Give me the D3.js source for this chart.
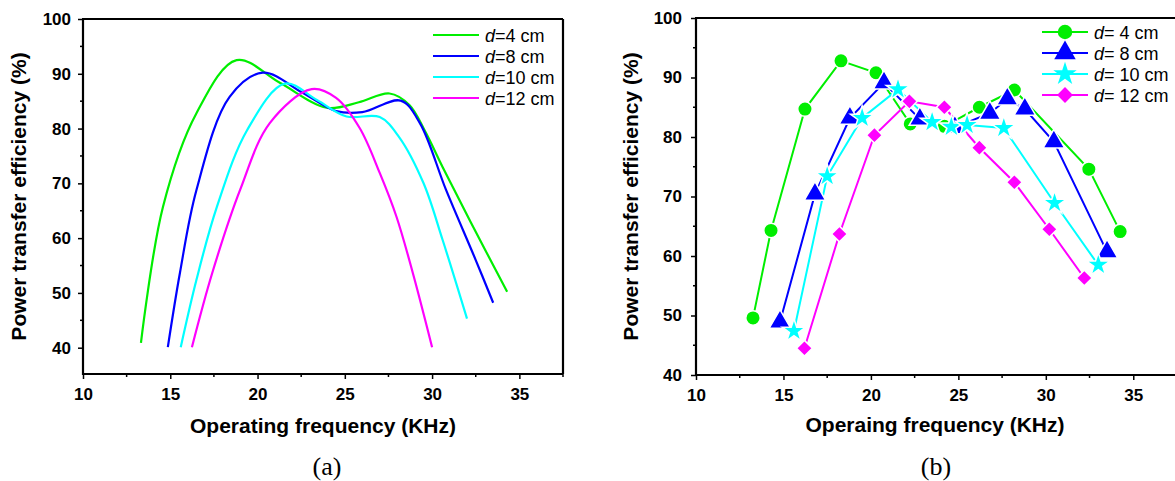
<!DOCTYPE html>
<html><head><meta charset="utf-8">
<script src="https://cdn.jsdelivr.net/npm/d3@7"></script>
<style>
html,body{margin:0;padding:0;background:#fff;}
</style></head>
<body><svg id="c" width="1175" height="481" style="font-family:'Liberation Sans',Arial,sans-serif"></svg>
<script>
// ---------- Data ----------
const seriesLabels = ["4 cm", "8 cm", "10 cm", "12 cm"];
const seriesColors = ["#00ee00", "#0000ff", "#00ffff", "#ff00ff"];
const xTicks = [10, 15, 20, 25, 30, 35];
const yTicksA = [40, 50, 60, 70, 80, 90, 100];
const yTicksB = [40, 50, 60, 70, 80, 90, 100];

// (a) fitted curves
const curveA4  = [[13.32,40.9],[14.58,65.7],[16.5,82.8],[18.8,92.5],[21.3,88.3],[23.96,83.8],[25.8,84.8],[27.56,86.4],[28.7,84.3],[29.6,79.5],[30.6,73.0],[32.2,63.0],[34.3,50.2]];
const curveA8  = [[14.86,40.1],[15.55,53.6],[16.5,68.8],[18.4,85.8],[20.3,90.2],[22.6,86.5],[24.5,83.2],[26.0,83.0],[28.2,85.1],[29.3,81],[30.8,68.8],[32.5,56],[33.5,48.2]];
const curveA10 = [[15.6,40.1],[16.5,52.4],[17.67,65.7],[19.4,79.7],[21.56,88.2],[23.4,85.2],[25.1,82.2],[27.0,82.1],[28.1,78.5],[29.5,70.1],[30.6,59.7],[32.0,45.3]];
const curveA12 = [[16.24,40.1],[17.4,53.6],[19.0,68.8],[20.7,81],[23.1,87.2],[24.5,85.6],[25.85,80.1],[27.0,71.9],[27.96,63.9],[28.9,53.6],[30.0,40.1]];
const curvesA = [curveA4, curveA8, curveA10, curveA12];

// (b) measured points
const measB4  = [[13.26,49.6],[14.29,64.3],[16.23,84.7],[18.29,92.8],[20.29,90.8],[22.25,82.2],[24.2,81.8],[26.2,85.0],[28.2,87.9],[32.46,74.6],[34.25,64.1]];
const measB8  = [[14.8,48.9],[16.8,70.4],[18.8,83.2],[20.75,89.1],[22.8,83.0],[24.8,81.6],[26.8,84.0],[27.8,86.4],[28.8,84.7],[30.46,79.2],[33.5,60.7]];
const measB10 = [[15.6,47.4],[17.5,73.4],[19.5,83.2],[21.55,88.0],[23.5,82.5],[24.6,81.7],[25.5,82.0],[27.6,81.5],[30.5,68.9],[33.0,58.5]];
const measB12 = [[16.2,44.5],[18.2,63.7],[20.2,80.3],[22.2,86.0],[24.2,85.0],[26.2,78.2],[28.2,72.4],[30.2,64.5],[32.2,56.3]];
const measB = [measB4, measB8, measB10, measB12];

// ---------- Drawing ----------
const svg = d3.select("#c");
const FONT = "'Liberation Sans',Arial,sans-serif";
const SERIF = "'Liberation Serif','Times New Roman',serif";

function drawAxes(g, x, y, yTicks, yMin, opts) {
  const [x0, x1] = x.range();
  const [yb, yt] = y.range();
  const xMinor = d3.range(12.5, 37.6, 5);
  const yMinor = d3.range(Math.ceil(yMin/5)*5, 100, 5).filter(v => v % 10 !== 0);
  g.append("g").selectAll("line").data(xMinor).join("line")
    .attr("x1", d => x(d)).attr("x2", d => x(d)).attr("y1", yb).attr("y2", yb + 3)
    .attr("stroke", "#000").attr("stroke-width", 1.5);
  g.append("g").selectAll("line").data(yMinor).join("line")
    .attr("y1", d => y(d)).attr("y2", d => y(d)).attr("x1", x0).attr("x2", x0 - 3)
    .attr("stroke", "#000").attr("stroke-width", 1.5);
  const ax = g.append("g").attr("transform", `translate(0,${yb})`)
    .call(d3.axisBottom(x).tickValues(xTicks).tickSize(5).tickPadding(9));
  const ay = g.append("g").attr("transform", `translate(${x0},0)`)
    .call(d3.axisLeft(y).tickValues(yTicks).tickSize(5).tickPadding(opts.yPad));
  [ax, ay].forEach(a => {
    a.select(".domain").remove();
    a.selectAll(".tick line").attr("stroke-width", 1.5);
    a.selectAll("text").attr("font-family", FONT).attr("font-weight", "bold")
      .attr("font-size", 17).attr("fill", "#000");
  });
  g.append("line").attr("x1", x0).attr("x2", x0).attr("y1", yt).attr("y2", yb + 1).attr("stroke", "#000").attr("stroke-width", 2.2);
  g.append("line").attr("x1", x0 - 1).attr("x2", opts.frameRight).attr("y1", yb).attr("y2", yb).attr("stroke", "#000").attr("stroke-width", 2.2);
  g.append("line").attr("x1", x0 - 1).attr("x2", opts.frameRight).attr("y1", yt).attr("y2", yt).attr("stroke", "#000").attr("stroke-width", 2.2);
  if (opts.rightBorder) {
    g.append("line").attr("x1", x1).attr("x2", x1).attr("y1", yt).attr("y2", yb).attr("stroke", "#000").attr("stroke-width", 2.2);
  }
  g.append("text").attr("x", opts.xTitleX).attr("y", opts.xTitleY)
    .attr("text-anchor", "middle").attr("font-weight", "bold").attr("font-size", 21)
    .text(opts.xTitle);
  g.append("text").attr("transform", `translate(${opts.yTitleX},${(yt + yb) / 2}) rotate(-90)`)
    .attr("text-anchor", "middle").attr("font-weight", "bold").attr("font-size", 21)
    .text("Power transfer efficiency (%)");
}

// ---- Panel (a) ----
const xA = d3.scaleLinear().domain([10, 37.5]).range([83, 563]);
const yA = d3.scaleLinear().domain([35.2, 100]).range([374, 19]);
const gA = svg.append("g");
const lineA = d3.line().x(d => xA(d[0])).y(d => yA(d[1])).curve(d3.curveCatmullRom.alpha(0.5));
gA.append("g").selectAll("path").data(curvesA).join("path")
  .attr("d", lineA).attr("fill", "none")
  .attr("stroke", (d, i) => seriesColors[i]).attr("stroke-width", 2.2);
drawAxes(gA, xA, yA, yTicksA, 35.2, {frameRight: 563, rightBorder: true, xTitle: "Operating frequency (KHz)", xTitleX: 323, xTitleY: 433, yTitleX: 26, yPad: 7});

const legA = gA.append("g");
seriesLabels.forEach((lab, i) => {
  const yy = 35 + i * 21;
  legA.append("line").attr("x1", 433).attr("x2", 479).attr("y1", yy).attr("y2", yy)
    .attr("stroke", seriesColors[i]).attr("stroke-width", 2.2);
  const t = legA.append("text").attr("x", 485).attr("y", yy + 6.5).attr("font-size", 18);
  t.append("tspan").attr("font-style", "italic").text("d");
  t.append("tspan").text("=" + lab);
});
gA.append("text").attr("x", 327).attr("y", 475).attr("text-anchor", "middle")
  .style("font-family", SERIF).attr("font-size", 26).text("(a)");

// ---- Panel (b) ----
const xB = d3.scaleLinear().domain([10, 37.5]).range([696, 1177]);
const yB = d3.scaleLinear().domain([40, 100]).range([375, 18]);
const gB = svg.append("g");
const symbols = [d3.symbolCircle, d3.symbolTriangle, d3.symbolStar, d3.symbolSquare];
const symSizes = [165, 200, 170, 125];
const symRot = [0, 0, 0, 45];
const lineB = d3.line().x(d => xB(d[0])).y(d => yB(d[1]));
measB.forEach((pts, i) => {
  gB.append("path").datum(pts).attr("d", lineB).attr("fill", "none")
    .attr("stroke", seriesColors[i]).attr("stroke-width", 2);
});
measB.forEach((pts, i) => {
  gB.append("g").selectAll("path").data(pts).join("path")
    .attr("transform", d => `translate(${xB(d[0])},${yB(d[1])}) rotate(${symRot[i]})`)
    .attr("d", d3.symbol().type(symbols[i]).size(symSizes[i]))
    .attr("fill", seriesColors[i]).attr("stroke", "#fff").attr("stroke-width", 1.5);
});
drawAxes(gB, xB, yB, yTicksB, 40, {frameRight: 1175, rightBorder: false, xTitle: "Operaing frequency (KHz)", xTitleX: 935, xTitleY: 432, yTitleX: 638, yPad: 9});

const legB = gB.append("g");
seriesLabels.forEach((lab, i) => {
  const yy = 32 + i * 21;
  legB.append("line").attr("x1", 1042).attr("x2", 1088).attr("y1", yy).attr("y2", yy)
    .attr("stroke", seriesColors[i]).attr("stroke-width", 2);
  legB.append("path").attr("transform", `translate(1065,${yy}) rotate(${symRot[i]})`)
    .attr("d", d3.symbol().type(symbols[i]).size(symSizes[i]))
    .attr("fill", seriesColors[i]);
  const t = legB.append("text").attr("x", 1094).attr("y", yy + 6.5).attr("font-size", 18);
  t.append("tspan").attr("font-style", "italic").text("d");
  t.append("tspan").text("= " + lab);
});
gB.append("text").attr("x", 936).attr("y", 475).attr("text-anchor", "middle")
  .style("font-family", SERIF).attr("font-size", 26).text("(b)");
</script>
</body></html>
